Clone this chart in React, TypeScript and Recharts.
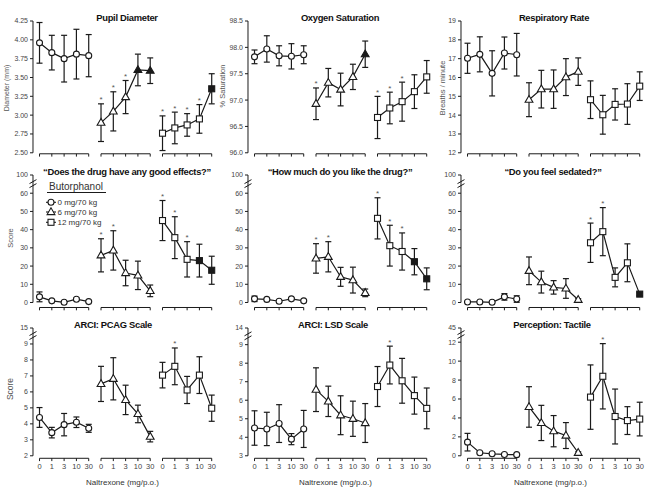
import React from 'react'
import { LineChart, Line, XAxis, YAxis, ErrorBar, ReferenceLine } from 'recharts'

const DOSES = ['0', '1', '3', '10', '30']
const GROUP_MARKERS = ['circle', 'triangle', 'square']

// Pupil diameter (mm)
const pupilMean = [
  [3.96, 3.83, 3.75, 3.81, 3.79],
  [2.9, 3.05, 3.24, 3.6, 3.59],
  [2.76, 2.83, 2.87, 2.95, 3.35],
]
const pupilSem = [
  [0.27, 0.23, 0.31, 0.33, 0.28],
  [0.25, 0.26, 0.22, 0.21, 0.17],
  [0.23, 0.21, 0.15, 0.19, 0.2],
]
const pupilStars = [[], [0, 1, 2], [0, 1, 2, 3]]
const pupilFilled = [[], [3, 4], [4]]

// Oxygen saturation (%)
const oxyMean = [
  [97.82, 97.97, 97.84, 97.83, 97.86],
  [96.93, 97.33, 97.2, 97.44, 97.87],
  [96.67, 96.85, 96.97, 97.16, 97.44],
]
const oxySem = [
  [0.13, 0.25, 0.19, 0.24, 0.17],
  [0.3, 0.27, 0.31, 0.24, 0.25],
  [0.4, 0.3, 0.37, 0.32, 0.31],
]
const oxyStars = [[], [0], [0, 1, 2]]
const oxyFilled = [[], [4], []]

// Respiratory rate
const respMean = [
  [17.02, 17.23, 16.22, 17.3, 17.21],
  [14.82, 15.38, 15.38, 16.02, 16.31],
  [14.82, 14.02, 14.57, 14.59, 15.54],
]
const respSem = [
  [0.8, 0.93, 1.2, 0.85, 1.13],
  [0.9, 1.0, 1.02, 0.98, 0.73],
  [1.0, 1.03, 0.83, 1.08, 0.76],
]

// "Does the drug have any good effects?"
const goodMean = [
  [3.1, 0.9, 0.1, 1.8, 0.5],
  [25.9, 28.6, 16.2, 14.9, 6.4],
  [45, 35.6, 23.7, 23, 17.7],
]
const goodSem = [
  [2.7, 0.4, 0.1, 0.6, 0.4],
  [9.1, 10.8, 7, 7.8, 3.2],
  [11, 11.5, 9.7, 9, 7.7],
]
const goodStars = [[], [0, 1], [0, 1, 2]]
const goodFilled = [[], [], [3, 4]]

// "How much do you like the drug?"
const likeMean = [
  [2.0, 1.7, 0.7, 2.0, 0.9],
  [24.2, 25.1, 14.1, 12.3, 5.3],
  [46.2, 31.2, 28.0, 22.4, 13],
]
const likeSem = [
  [1.5, 0.5, 0.4, 0.5, 0.5],
  [8.1, 8.3, 5.2, 7.1, 2.1],
  [11.3, 11.2, 10.2, 7.2, 6],
]
const likeStars = [[], [0, 1], [0, 1, 2]]
const likeFilled = [[], [], [3, 4]]

// "Do you feel sedated?"
const sedMean = [
  [0.3, 0.3, 0.1, 3.1, 1.9],
  [17.4, 11.2, 8.3, 7.7, 1.5],
  [32.8, 38.9, 13.8, 21.8, 4.6],
]
const sedSem = [
  [0.2, 0.2, 0.1, 1.8, 1.8],
  [7.6, 6, 3.7, 5.4, 0.6],
  [10.8, 13.2, 5.2, 10.4, 0.8],
]
const sedStars = [[], [], [0, 1]]
const sedFilled = [[], [], [4]]

// ARCI: PCAG
const pcagMean = [
  [4.4, 3.45, 3.95, 4.1, 3.72],
  [6.5, 6.82, 5.5, 4.62, 3.2],
  [7.05, 7.6, 6.12, 7.05, 4.98],
]
const pcagSem = [
  [0.62, 0.33, 0.7, 0.33, 0.25],
  [1.1, 1.32, 0.92, 0.55, 0.33],
  [0.8, 1.15, 0.85, 1.15, 0.82],
]

// ARCI: LSD
const lsdMean = [
  [4.5, 4.45, 4.74, 3.9, 4.45],
  [6.57, 5.94, 5.19, 5.0, 4.77],
  [6.74, 7.9, 7.05, 6.25, 5.56],
]
const lsdSem = [
  [0.93, 0.9, 1.02, 0.3, 1.0],
  [1.18, 0.82, 1.05, 0.95, 1.05],
  [1.08, 1.02, 1.21, 1.0, 1.1],
]

// Perception: tactile
const tactMean = [
  [1.44, 0.32, 0.21, 0.14, 0.12],
  [5.16, 3.47, 2.6, 2.14, 0.32],
  [6.2, 8.4, 4.15, 3.72, 3.88],
]
const tactSem = [
  [0.93, 0.05, 0.05, 0.05, 0.05],
  [2.14, 1.86, 1.65, 1.37, 0.1],
  [3.4, 3.45, 2.9, 1.47, 1.78],
]
const lateStar = [[], [], [1]]
const none = [[], [], []]

// y ticks (last value of the broken axes carries the break label)
const pupilTicks = [2.5, 2.75, 3.0, 3.25, 3.5, 3.75, 4.0, 4.25]
const oxyTicks = [96.0, 96.5, 97.0, 97.5, 98.0, 98.5]
const respTicks = [12, 13, 14, 15, 16, 17, 18, 19]
const scoreTicks = [0, 10, 20, 30, 40, 50, 60, 70]
const pcagTicks = [2, 3, 4, 5, 6, 7, 8, 9, 10]
const lsdTicks = [3, 4, 5, 6, 7, 8, 9, 9.9]
const tactTicks = [0, 2, 4, 6, 8, 10, 12, 13.5]

type Panel = {
  title: string
  yLabel?: string
  mean: number[][]
  sem: number[][]
  stars: number[][]
  filled: number[][]
  domain: [number, number]
  ticks: number[]
  decimals: number
  breakLabel?: string
  col: number
  row: number
  titleX: number
}

const panels: Panel[] = [
  { title: 'Pupil Diameter', yLabel: 'Diameter (mm)', mean: pupilMean, sem: pupilSem, stars: pupilStars, filled: pupilFilled, domain: [2.5, 4.25], ticks: pupilTicks, decimals: 2, col: 0, row: 0, titleX: 127 },
  { title: 'Oxygen Saturation', yLabel: '% Saturation', mean: oxyMean, sem: oxySem, stars: oxyStars, filled: oxyFilled, domain: [96, 98.5], ticks: oxyTicks, decimals: 1, col: 1, row: 0, titleX: 340 },
  { title: 'Respiratory Rate', yLabel: 'Breaths / minute', mean: respMean, sem: respSem, stars: none, filled: none, domain: [12, 19], ticks: respTicks, decimals: 0, col: 2, row: 0, titleX: 554 },
  { title: '\u201cDoes the drug have any good effects?\u201d', yLabel: 'Score', mean: goodMean, sem: goodSem, stars: goodStars, filled: goodFilled, domain: [0, 70], ticks: scoreTicks, decimals: 0, breakLabel: '100', col: 0, row: 1, titleX: 127 },
  { title: '\u201cHow much do you like the drug?\u201d', mean: likeMean, sem: likeSem, stars: likeStars, filled: likeFilled, domain: [0, 70], ticks: scoreTicks, decimals: 0, breakLabel: '100', col: 1, row: 1, titleX: 340 },
  { title: '\u201cDo you feel sedated?\u201d', mean: sedMean, sem: sedSem, stars: sedStars, filled: sedFilled, domain: [0, 70], ticks: scoreTicks, decimals: 0, breakLabel: '100', col: 2, row: 1, titleX: 553 },
  { title: 'ARCI: PCAG Scale', yLabel: 'Score', mean: pcagMean, sem: pcagSem, stars: lateStar, filled: none, domain: [2, 10], ticks: pcagTicks, decimals: 0, breakLabel: '15', col: 0, row: 2, titleX: 113 },
  { title: 'ARCI: LSD Scale', mean: lsdMean, sem: lsdSem, stars: lateStar, filled: none, domain: [3, 9.9], ticks: lsdTicks, decimals: 0, breakLabel: '14', col: 1, row: 2, titleX: 333 },
  { title: 'Perception: Tactile', mean: tactMean, sem: tactSem, stars: lateStar, filled: none, domain: [0, 13.5], ticks: tactTicks, decimals: 0, breakLabel: '45', col: 2, row: 2, titleX: 552 },
]

// layout
const FONT = '"Liberation Sans", Arial, Helvetica, sans-serif'
const COL_AXIS = [32.5, 247.5, 461.2]
const ROW_TOP = [20.7, 175, 327.7]
const ROW_BOTTOM = [152.5, 302.5, 455.5]
const SEG_DY = [1, 5, 2.5]
const TITLE_Y = [17.3, 170.7, 324]
const Y_LABELS: Record<string, { x: number; y: number; size: number }> = {
  'Diameter (mm)': { x: 6, y: 88, size: 7 },
  '% Saturation': { x: 222, y: 86, size: 7.5 },
  'Breaths / minute': { x: 442, y: 87.5, size: 7.5 },
}
const X_DOMAIN: [number, number] = [-0.53, 14.5]
const STEP = 12.3
const YW = 32
const MT = 8
const MR = 4
const INK = '#1a1a1a'

function markerDot(kind: string) {
  return (props: any) => {
    const { cx, cy, payload, index } = props
    const key = `m-${kind}-${index}`
    if (cx == null || cy == null) return <g key={key} />
    const style = { fill: payload.filled ? INK : '#fff', stroke: INK, strokeWidth: 1.1 }
    if (kind === 'circle') return <circle key={key} cx={cx} cy={cy} r={3} {...style} />
    if (kind === 'triangle')
      return <polygon key={key} points={`${cx},${cy - 4.2} ${cx - 3.9},${cy + 2.6} ${cx + 3.9},${cy + 2.6}`} {...style} />
    return <rect key={key} x={cx - 3} y={cy - 3} width={6} height={6} {...style} />
  }
}

const starDot = (props: any) => {
  const { cx, cy, index } = props
  if (cx == null || cy == null) return <g key={`s-${index}`} />
  return (
    <text key={`s-${index}`} x={cx} y={cy - 1.5} textAnchor="middle" fontSize={8} fill="#555" fontFamily={FONT}>
      *
    </text>
  )
}

function segShape(dy: number) {
  return (p: any) => {
    const a = Math.min(p.x1, p.x2)
    const b = Math.max(p.x1, p.x2)
    const y = p.y1 + dy
    const step = (b - a) / 4
    return (
      <g>
        <line x1={a} x2={b} y1={y} y2={y} stroke={INK} strokeWidth={1} />
        {[0, 1, 2, 3, 4].map((k) => (
          <line key={k} x1={a + k * step} x2={a + k * step} y1={y} y2={y + 2.8} stroke={INK} strokeWidth={1} />
        ))}
      </g>
    )
  }
}

const breakShape = (p: any) => {
  const x = Math.min(p.x1, p.x2)
  const y = p.y1
  return (
    <g>
      <rect x={x - 2} y={y - 2.6} width={4} height={4.2} fill="#fff" />
      <line x1={x - 3.5} y1={y - 0.5} x2={x + 3.5} y2={y - 4.5} stroke={INK} strokeWidth={1} />
      <line x1={x - 3.5} y1={y + 3.5} x2={x + 3.5} y2={y - 0.5} stroke={INK} strokeWidth={1} />
    </g>
  )
}

function PanelChart({ panel }: { panel: Panel }) {
  const top = ROW_TOP[panel.row]
  const bottom = ROW_BOTTOM[panel.row]
  const isBottom = panel.row === 2
  const plotW = (X_DOMAIN[1] - X_DOMAIN[0]) * STEP
  const xh = isBottom ? 18 : 0
  const mb = isBottom ? 0 : 10
  const width = YW + plotW + MR
  const height = MT + (bottom - top) + xh + mb
  const breakAt = panel.breakLabel ? panel.ticks[panel.ticks.length - 1] : undefined
  const breakMid = breakAt !== undefined ? (breakAt + panel.ticks[panel.ticks.length - 2]) / 2 : undefined

  const groups = panel.mean.map((vals, g) =>
    vals.map((v, i) => ({ x: g * 5 + i, y: v, e: panel.sem[g][i], filled: panel.filled[g].includes(i) })),
  )
  const starData = panel.mean.map((vals, g) =>
    panel.stars[g].map((i) => ({ x: g * 5 + i, y: vals[i] + panel.sem[g][i] })),
  )

  return (
    <div style={{ position: 'absolute', left: COL_AXIS[panel.col] - YW, top: top - MT }}>
      <LineChart width={width} height={height} margin={{ top: MT, right: MR, left: 0, bottom: mb }}>
        {isBottom ? (
          <XAxis
            type="number"
            dataKey="x"
            domain={X_DOMAIN}
            ticks={[0, 1, 2, 3, 4, 5, 6, 7, 8, 9, 10, 11, 12, 13, 14]}
            tickFormatter={(v: number) => DOSES[v % 5]}
            interval={0}
            axisLine={false}
            tickLine={false}
            tickSize={0}
            tickMargin={7.5}
            height={xh}
            tick={{ fontSize: 7.5, fill: '#444', fontFamily: FONT }}
            allowDataOverflow
          />
        ) : (
          <XAxis type="number" dataKey="x" domain={X_DOMAIN} hide allowDataOverflow />
        )}
        <YAxis
          type="number"
          domain={panel.domain}
          ticks={panel.ticks}
          interval={0}
          width={YW}
          tickFormatter={(v: number) => (v === breakAt ? panel.breakLabel! : v.toFixed(panel.decimals))}
          tick={{ fontSize: 7, fill: '#444', fontFamily: FONT }}
          tickSize={3}
          tickMargin={2}
          axisLine={{ stroke: INK }}
          tickLine={{ stroke: INK }}
        />
        {breakMid !== undefined && <ReferenceLine y={breakMid} ifOverflow="visible" shape={breakShape} />}
        {[0, 1, 2].map((g) => (
          <ReferenceLine
            key={`seg-${g}`}
            segment={[
              { x: g * 5, y: panel.domain[0] },
              { x: g * 5 + 4, y: panel.domain[0] },
            ]}
            ifOverflow="visible"
            shape={segShape(SEG_DY[panel.row])}
          />
        ))}
        {groups.map((data, g) => (
          <Line
            key={`g-${g}`}
            data={data}
            dataKey="y"
            stroke={INK}
            strokeWidth={1.2}
            dot={markerDot(GROUP_MARKERS[g])}
            activeDot={false}
            isAnimationActive={false}
          >
            <ErrorBar dataKey="e" width={3} stroke={INK} strokeWidth={1.2} direction="y" />
          </Line>
        ))}
        {starData.map((data, g) =>
          data.length ? (
            <Line
              key={`st-${g}`}
              data={data}
              dataKey="y"
              stroke="none"
              dot={starDot}
              activeDot={false}
              isAnimationActive={false}
            />
          ) : null,
        )}
      </LineChart>
    </div>
  )
}

function Legend() {
  const rows = [
    { label: '0 mg/70 kg', kind: 'circle', y: 202.3 },
    { label: '6 mg/70 kg', kind: 'triangle', y: 212 },
    { label: '12 mg/70 kg', kind: 'square', y: 222.3 },
  ]
  return (
    <svg width={651} height={496} style={{ position: 'absolute', left: 0, top: 0, pointerEvents: 'none' }}>
      <text x={49} y={189.5} fontSize={10} fill="#333" fontFamily={FONT}>
        Butorphanol
      </text>
      <line x1={47} x2={106} y1={192.5} y2={192.5} stroke={INK} strokeWidth={1} />
      {rows.map((r) => (
        <g key={r.label}>
          <line x1={46} x2={56} y1={r.y} y2={r.y} stroke={INK} strokeWidth={1.1} />
          {markerDot(r.kind)({ cx: 51, cy: r.y, payload: { filled: false }, index: r.label })}
          <text x={57.5} y={r.y + 3} fontSize={8} fill="#333" fontFamily={FONT}>
            {r.label}
          </text>
        </g>
      ))}
    </svg>
  )
}

export default function App() {
  return (
    <div style={{ position: 'absolute', left: 0, top: 0, width: 651, height: 496, background: '#fff', fontFamily: FONT }}>
      {panels.map((p) => (
        <PanelChart key={p.title} panel={p} />
      ))}
      {panels.map((p) => (
        <div
          key={`t-${p.title}`}
          style={{
            position: 'absolute',
            left: p.titleX,
            top: TITLE_Y[p.row],
            transform: 'translate(-50%, -50%)',
            whiteSpace: 'nowrap',
            fontSize: 9.4,
            fontWeight: 'bold',
            letterSpacing: -0.3,
            color: '#111',
          }}
        >
          {p.title}
        </div>
      ))}
      {Object.entries(Y_LABELS).map(([text, pos]) => (
        <div
          key={text}
          style={{
            position: 'absolute',
            left: pos.x,
            top: pos.y,
            transform: 'translate(-50%, -50%) rotate(-90deg)',
            whiteSpace: 'nowrap',
            fontSize: pos.size,
            color: '#555',
          }}
        >
          {text}
        </div>
      ))}
      {[238, 389].map((y, i) => (
        <div
          key={`score-${y}`}
          style={{
            position: 'absolute',
            left: 9.5,
            top: y,
            transform: 'translate(-50%, -50%) rotate(-90deg)',
            fontSize: i === 0 ? 7.5 : 8.5,
            color: '#555',
          }}
        >
          Score
        </div>
      ))}
      {[122.5, 335.5, 550.5].map((x) => (
        <div
          key={`xt-${x}`}
          style={{
            position: 'absolute',
            left: x,
            top: 482.3,
            transform: 'translate(-50%, -50%)',
            whiteSpace: 'nowrap',
            fontSize: 8,
            color: '#333',
          }}
        >
          Naltrexone (mg/p.o.)
        </div>
      ))}
      <Legend />
    </div>
  )
}
